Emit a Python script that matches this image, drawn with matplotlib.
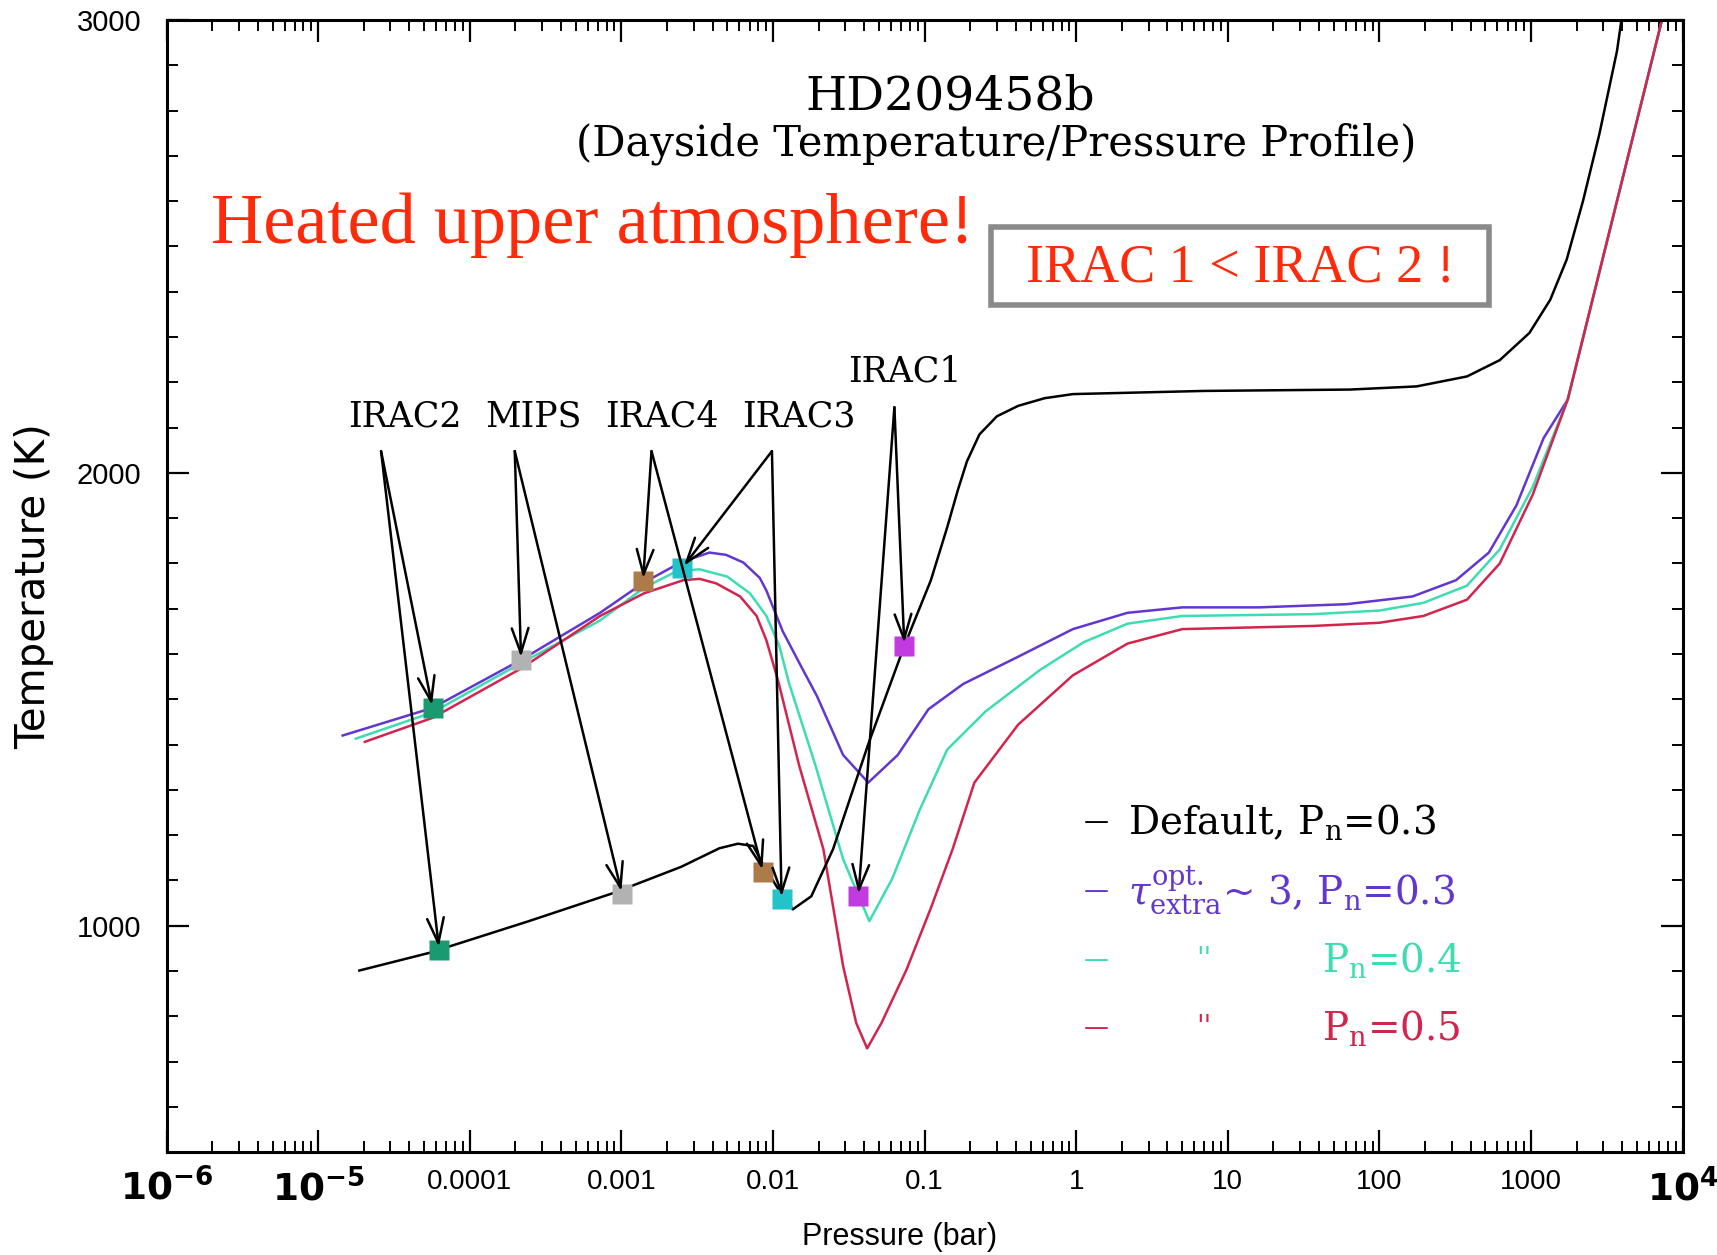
"""HD209458b dayside temperature/pressure profile with Spitzer band markers."""

import matplotlib
matplotlib.use("Agg")
import matplotlib.pyplot as plt
from matplotlib.patches import Rectangle
from matplotlib.ticker import FixedLocator, LogLocator, MultipleLocator, NullFormatter

# ------------------------------------------------------------
# data (pressure in bar, temperature in K)
# ------------------------------------------------------------
default_p = [1.87e-5, 5.41e-5, 2.45e-4, 8.83e-4, 2.48e-3, 4.43e-3, 5.87e-3, 7.41e-3,
             8.61e-3, 1.125e-2, 1.35e-2, 1.79e-2, 2.49e-2, 4.25e-2, 7.35e-2, 0.110,
             0.141, 0.165, 0.190, 0.230, 0.300, 0.414, 0.620, 0.951, 7.00, 63.8,
             176, 378, 622, 975, 1337, 1718, 2203, 2825, 3690, 3945]
default_t = [901, 940, 1010, 1072, 1130, 1171, 1181, 1176,
             1135, 1072, 1036, 1065, 1169, 1401, 1618, 1763,
             1880, 1960, 2025, 2085, 2125, 2148, 2165, 2174, 2181, 2184,
             2191, 2213, 2249, 2309, 2382, 2471, 2601, 2749, 2932, 3000]

pn03_p = [1.45e-5, 5.68e-5, 2.18e-4, 7.23e-4, 1.41e-3, 2.52e-3, 3.81e-3, 4.90e-3,
          6.38e-3, 8.18e-3, 9.05e-3, 1.16e-2, 1.52e-2, 1.95e-2, 2.90e-2, 4.25e-2,
          6.65e-2, 0.106, 0.180, 0.414, 0.951, 2.18, 5.01, 16.1, 60.7, 165, 320,
          527, 800, 1211, 1746, 7295]
pn03_t = [1420, 1481, 1587, 1691, 1758, 1804, 1824, 1819,
          1802, 1768, 1740, 1650, 1575, 1507, 1377, 1316,
          1377, 1478, 1534, 1594, 1655, 1691, 1703, 1703, 1710, 1727, 1763,
          1824, 1928, 2077, 2162, 3000]

pn04_p = [1.77e-5, 5.68e-5, 2.18e-4, 7.23e-4, 1.41e-3, 2.32e-3, 3.28e-3, 4.98e-3,
          7.05e-3, 9.05e-3, 1.10e-2, 1.28e-2, 1.91e-2, 2.90e-2, 4.32e-2, 6.12e-2,
          9.29e-2, 0.141, 0.252, 0.578, 1.12, 2.18, 5.01, 36.9, 100, 195, 378,
          622, 1026, 1746, 7295]
pn04_t = [1413, 1471, 1580, 1674, 1746, 1783, 1787, 1771,
          1734, 1684, 1618, 1534, 1353, 1147, 1010, 1104,
          1256, 1389, 1473, 1565, 1626, 1667, 1684, 1688, 1696, 1713, 1751,
          1831, 1969, 2162, 3000]

pn05_p = [2.03e-5, 5.68e-5, 2.18e-4, 7.23e-4, 1.41e-3, 2.56e-3, 3.28e-3, 4.22e-3,
          6.07e-3, 7.80e-3, 9.05e-3, 1.00e-2, 1.09e-2, 1.49e-2, 2.15e-2, 2.90e-2,
          3.54e-2, 4.18e-2, 5.19e-2, 7.60e-2, 0.110, 0.153, 0.213, 0.414, 0.951,
          2.18, 5.01, 36.9, 100, 195, 378, 622, 1026, 1746, 7295]
pn05_t = [1406, 1459, 1568, 1684, 1734, 1763, 1766, 1756,
          1727, 1684, 1630, 1580, 1536, 1353, 1169, 911,
          785, 729, 785, 903, 1039, 1169, 1316, 1444, 1553,
          1623, 1655, 1662, 1669, 1684, 1720, 1800, 1952, 2162, 3000]

# photosphere of each band: (upper profile, default profile)
band_names = ["IRAC2", "MIPS", "IRAC4", "IRAC3", "IRAC1"]
band_colors = ["#1b9a72", "#b2b2b2", "#ad7a4a", "#22c3c9", "#c23be0"]
band_upper_p = [5.68e-5, 2.18e-4, 1.39e-3, 2.52e-3, 7.35e-2]
band_upper_t = [1481, 1587, 1761, 1790, 1618]
band_lower_p = [6.28e-5, 1.01e-3, 8.61e-3, 1.14e-2, 3.66e-2]
band_lower_t = [947, 1070, 1118, 1058, 1065]
# arrow origins just below each label
arrow_from_p = [2.60e-5, 1.98e-4, 1.58e-3, 9.84e-3, 6.32e-2]
arrow_from_t = [2048, 2048, 2048, 2048, 2145]

x_tick_values = [1e-6, 1e-5, 1e-4, 1e-3, 1e-2, 1e-1, 1, 10, 100, 1000, 1e4]
x_tick_labels = [r"$\mathbf{10^{-6}}$", r"$\mathbf{10^{-5}}$", "0.0001", "0.001",
                 "0.01", "0.1", "1", "10", "100", "1000", r"$\mathbf{10^{4}}$"]

COL_DEFAULT = "black"
COL_PN03 = "#6236d0"
COL_PN04 = "#3ddcb2"
COL_PN05 = "#d2244c"

# ------------------------------------------------------------
# figure
# ------------------------------------------------------------
fig = plt.figure(figsize=(17.17, 12.55), dpi=100)
ax = fig.add_axes([0.097, 0.082, 0.883, 0.902])

lw = 1.8
ax.plot(pn03_p, pn03_t, color=COL_PN03, lw=lw, zorder=2)
ax.plot(pn04_p, pn04_t, color=COL_PN04, lw=lw, zorder=2)
ax.plot(pn05_p, pn05_t, color=COL_PN05, lw=lw, zorder=2)
ax.plot(default_p, default_t, color=COL_DEFAULT, lw=lw, zorder=3)

for i, name in enumerate(band_names):
    ax.plot([band_upper_p[i], band_lower_p[i]], [band_upper_t[i], band_lower_t[i]],
            ls="none", marker="s", ms=14, mec="none", color=band_colors[i], zorder=4)
    for px, pt in ((band_upper_p[i], band_upper_t[i]), (band_lower_p[i], band_lower_t[i])):
        ax.annotate("", xy=(px, pt), xytext=(arrow_from_p[i], arrow_from_t[i]),
                    arrowprops=dict(arrowstyle="->,head_length=0.9,head_width=0.3",
                                    color="black", lw=1.8, shrinkA=0, shrinkB=2,
                                    mutation_scale=20),
                    zorder=5)

ax.set_xscale("log")
ax.set_xlim(1e-6, 1e4)
ax.set_ylim(500, 3000)

# ticks
ax.xaxis.set_major_locator(FixedLocator(x_tick_values))
ax.set_xticklabels(x_tick_labels)
ax.xaxis.set_minor_locator(LogLocator(base=10, subs=range(2, 10), numticks=100))
ax.xaxis.set_minor_formatter(NullFormatter())
ax.yaxis.set_major_locator(FixedLocator([1000, 2000, 3000]))
ax.yaxis.set_minor_locator(MultipleLocator(100))
ax.tick_params(which="both", direction="in", top=True, right=True, color="black")
ax.tick_params(which="major", length=16, width=1.6)
ax.tick_params(which="minor", length=8, width=1.4)
ax.tick_params(axis="x", which="major", pad=12)
ax.tick_params(axis="y", which="major", pad=18)
for lab in ax.get_xticklabels():
    lab.set_fontfamily("Liberation Sans")
    lab.set_fontsize(20)
    if lab.get_text().startswith("$"):
        lab.set_fontsize(27)
for lab in ax.get_yticklabels():
    lab.set_fontfamily("Liberation Sans")
    lab.set_fontsize(21)
for sp in ax.spines.values():
    sp.set_linewidth(2.2)

fig.text(0.524, 0.014, "Pressure (bar)", ha="center", va="center",
         fontsize=22, family="Liberation Sans")
fig.text(0.020, 0.533, "Temperature (K)", ha="center", va="center", rotation=90,
         fontsize=29, family="DejaVu Sans")

# titles
ax.text(0.517, 0.932, "HD209458b", transform=ax.transAxes, ha="center",
        va="center", fontsize=34, family="DejaVu Serif")
ax.text(0.547, 0.891, "(Dayside Temperature/Pressure Profile)", transform=ax.transAxes,
        ha="center", va="center", fontsize=30, family="DejaVu Serif")

ax.text(0.029, 0.803, "Heated upper atmosphere!", transform=ax.transAxes,
        ha="left", va="baseline", fontsize=52, color="#ff2a0a",
        family="Liberation Serif")
ax.add_patch(Rectangle((0.544, 0.748), 0.328, 0.069, transform=ax.transAxes,
                       fill=False, ec="#8a8a8a", lw=4, zorder=6))
ax.text(0.708, 0.781, "IRAC 1 < IRAC 2 !", transform=ax.transAxes, ha="center",
        va="center", fontsize=39, color="#ff2a0a", family="Liberation Serif")

# band labels
label_pos = [(0.157, 0.650), (0.242, 0.650), (0.327, 0.650), (0.417, 0.650),
             (0.487, 0.690)]
for name, (lx, ly) in zip(band_names, label_pos):
    ax.text(lx, ly, name, transform=ax.transAxes, ha="center", va="center",
            fontsize=25, family="DejaVu Serif")

# hand-made legend
legend_rows = [
    (0.292, COL_DEFAULT, r"Default, P$_{\rm n}$=0.3", None),
    (0.231, COL_PN03, r"$\tau^{\rm opt.}_{\rm extra}$~ 3, P$_{\rm n}$=0.3", None),
    (0.170, COL_PN04, "''", r"P$_{\rm n}$=0.4"),
    (0.110, COL_PN05, "''", r"P$_{\rm n}$=0.5"),
]
for y, col, first, second in legend_rows:
    ax.text(0.605, y, "\u2014", transform=ax.transAxes, ha="left", va="center",
            fontsize=18, color=col, family="DejaVu Sans")
    if second is None:
        ax.text(0.634, y, first, transform=ax.transAxes, ha="left", va="center",
                fontsize=28, color=col, family="DejaVu Serif",
                math_fontfamily="dejavuserif")
    else:
        ax.text(0.679, y, first, transform=ax.transAxes, ha="left", va="center",
                fontsize=20, color=col, family="DejaVu Serif")
        ax.text(0.762, y, second, transform=ax.transAxes, ha="left", va="center",
                fontsize=28, color=col, family="DejaVu Serif",
                math_fontfamily="dejavuserif")

fig.savefig("out.png", dpi=100)
